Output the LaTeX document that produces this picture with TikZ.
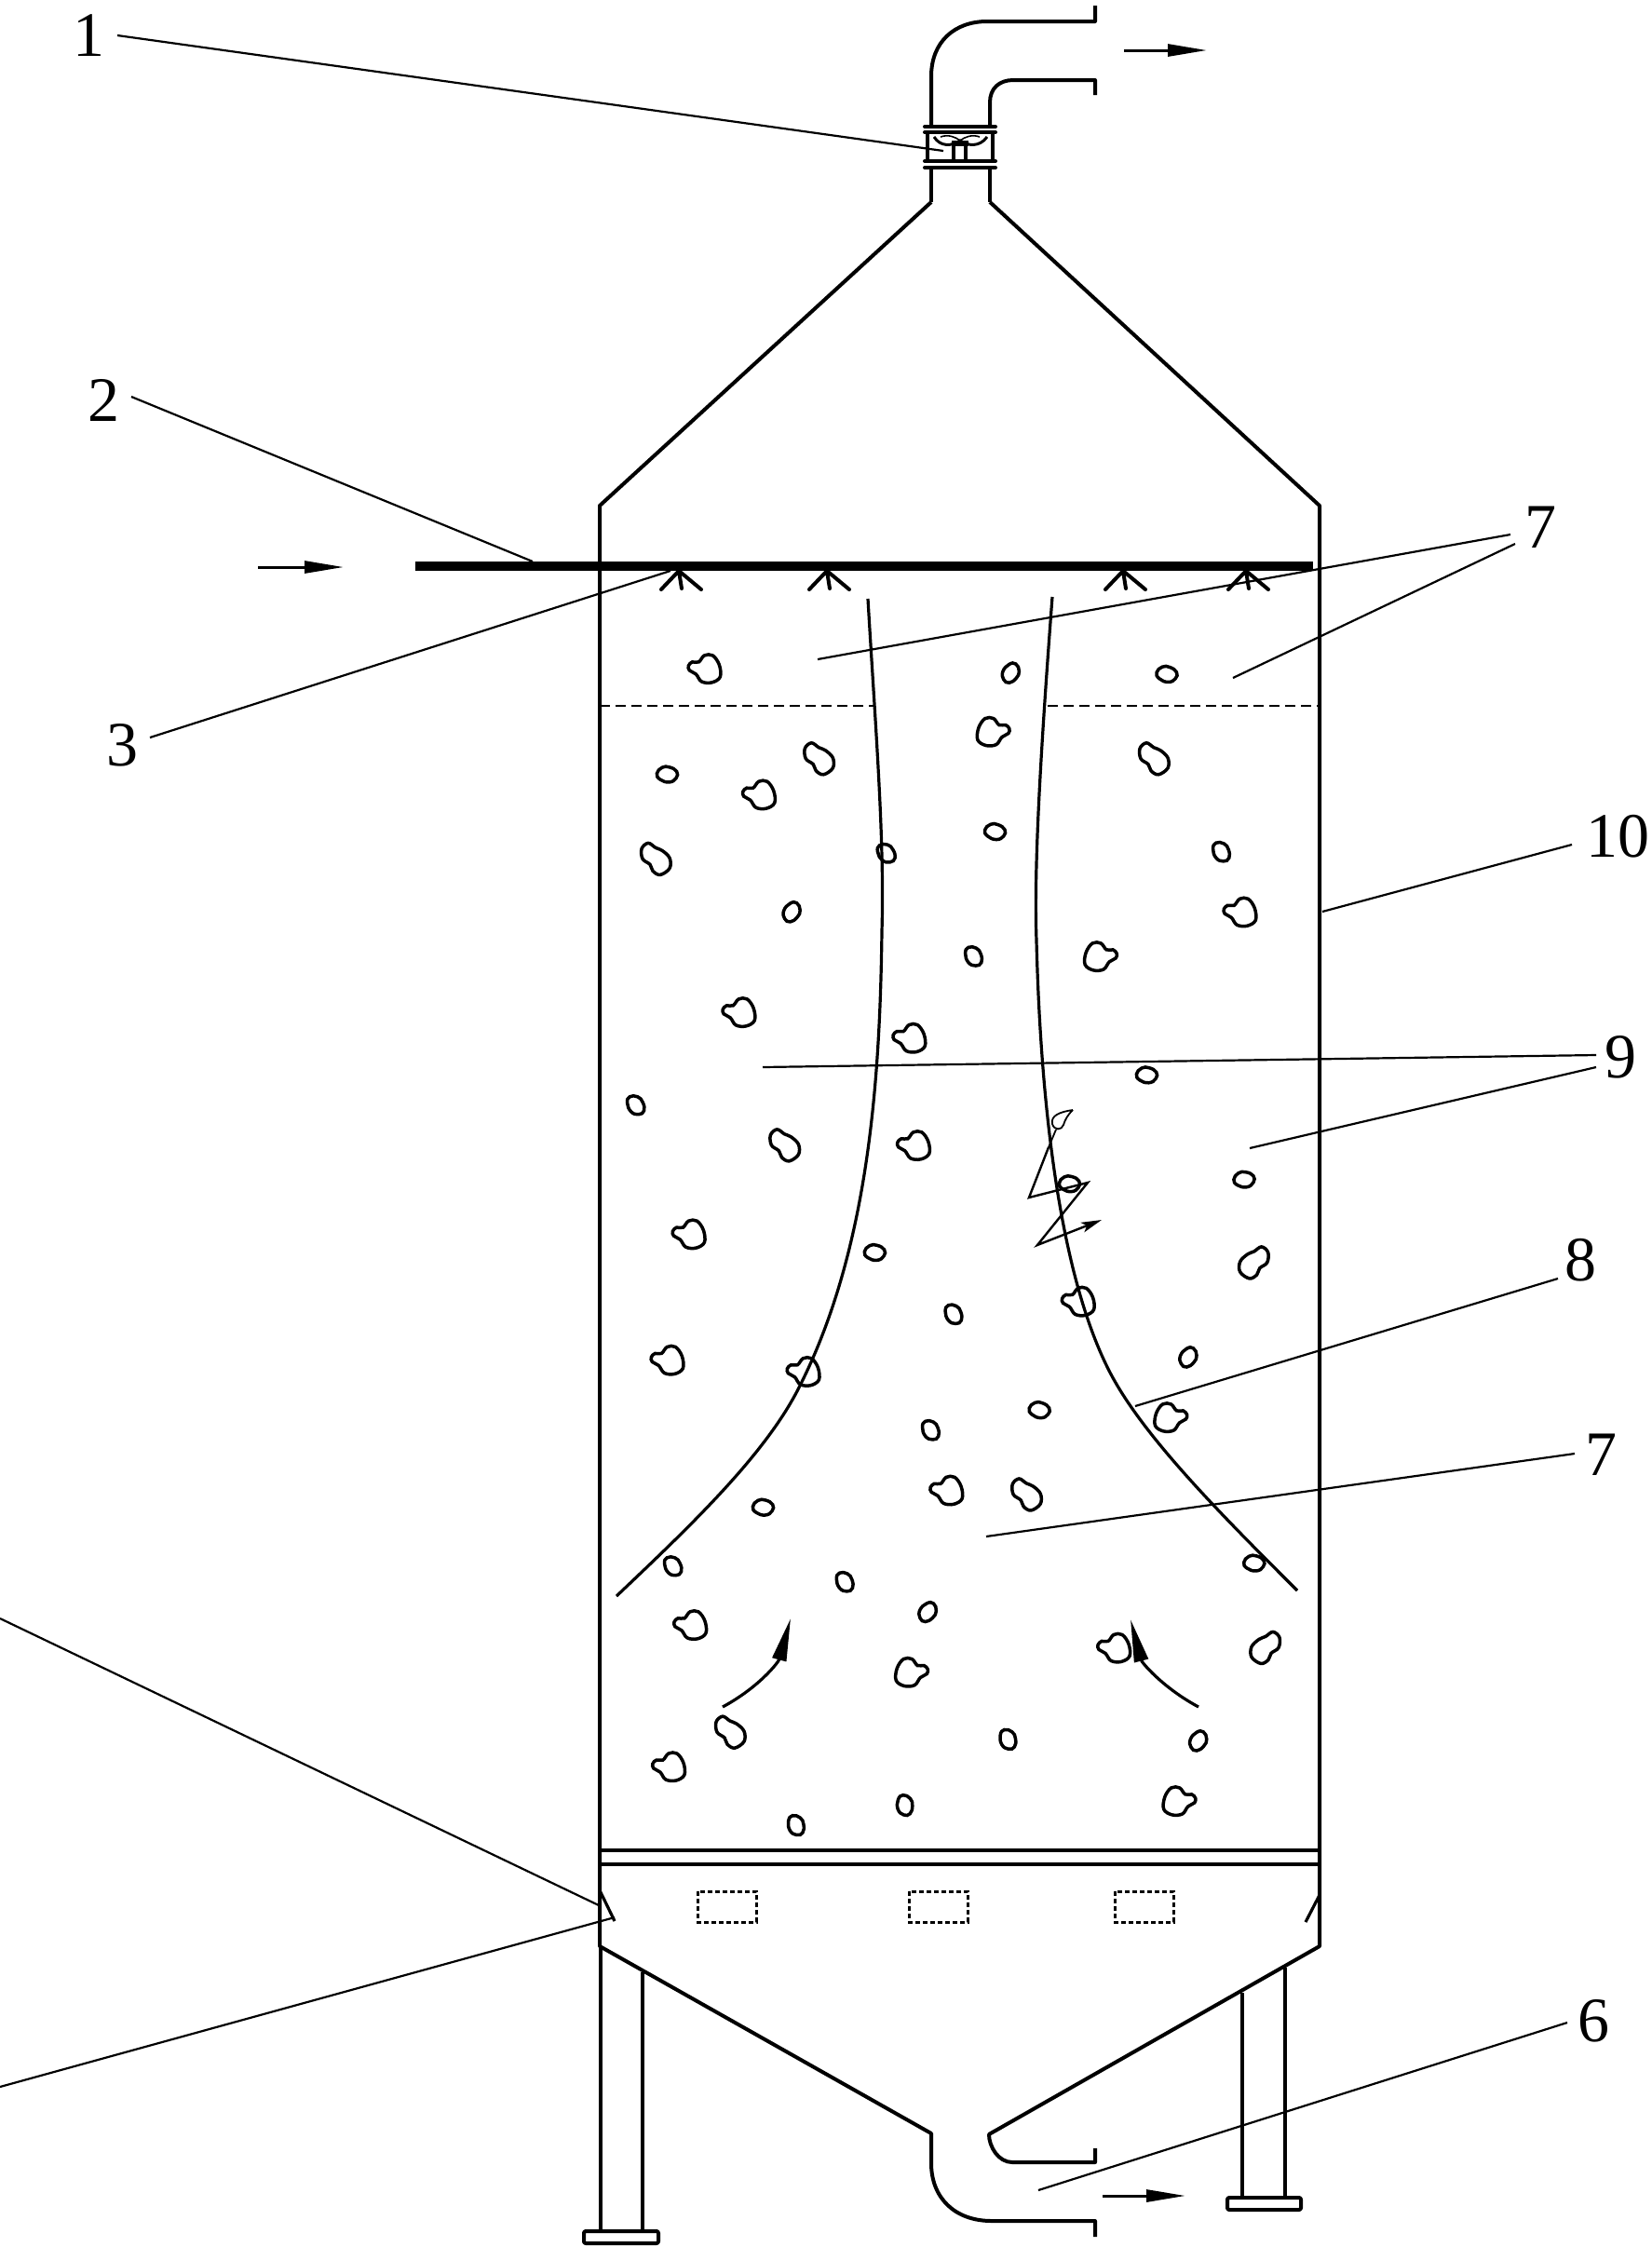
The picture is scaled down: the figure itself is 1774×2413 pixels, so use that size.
\documentclass[tikz,border=0pt]{standalone}
\usepackage{fontspec}
\setmainfont{Liberation Serif}
\usetikzlibrary{arrows.meta,calc}
\tikzset{
	wall/.style={line width=4pt,line join=round},
	thin wall/.style={line width=3.2pt},
	lead/.style={line width=2.2pt},
	flow/.style={line width=3pt,-{Stealth[length=42pt,width=13pt,inset=0pt]}},
	bigflow/.style={line width=3.2pt,-{Stealth[length=46pt,width=15pt,inset=0pt]}},
	num/.style={font=\fontsize{68}{68}\selectfont,inner sep=0pt},
	heartlump/.pic={\draw[line width=3.5pt] plot[smooth cycle,tension=0.6] coordinates{(-17,-3)(-13,-7)(-6,-7)(0,-14)(9,-14)(16,-4)(17,9)(8,15)(-3,14)(-9,6)(-16,2)};},
	peanut/.pic={\draw[line width=3.5pt] plot[smooth cycle,tension=0.6] coordinates{(-15,-11)(-8,-17)(0,-12)(7,-9)(15,-1)(15,10)(5,17)(-3,13)(-6,6)(-14,0)};},
	grain/.pic={\draw[line width=3.5pt] plot[smooth cycle,tension=0.8] coordinates{(0,-11)(7,-6)(8,2)(4,10)(-3,10)(-8,3)(-6,-7)};}
}
\begin{document}
\begin{tikzpicture}[x=1pt,y=-1pt]
\useasboundingbox (0,0) rectangle (1774,2413);
%vessel
\draw[wall](1000,217)--(1000,180)(1063,180)--(1063,217);
\draw[wall](1000,217)--(644,543)--(644,2090)--(1000,2291)--(1000,2323).. controls (1000,2360) and (1025,2385) .. (1065,2385)--(1176,2385)--(1176,2402);
\draw[wall](1063,217)--(1417,543)--(1417,2090)--(1062,2292).. controls (1062,2305) and (1072,2322) .. (1087,2322)--(1176,2322)--(1176,2307);
\draw[wall](1000,135)--(1000,82).. controls (1000,45) and (1025,23) .. (1060,23)--(1176,23)--(1176,6);
\draw[wall](1063,135)--(1063,110).. controls (1063,95) and (1073,86) .. (1088,86)--(1176,86)--(1176,102);
%flange and fan
\foreach \fy in {136,142,173,180}{\draw[wall,line cap=round](993,\fy)--(1069,\fy);}
\draw[wall](996,142)--(996,173)(1066,142)--(1066,173);
\draw[thin wall](1024,155)--(1024,173)(1037,155)--(1037,173);
\draw[line width=3pt](1003,147).. controls (1010,158) and (1022,157) .. (1031,151).. controls (1040,157) and (1052,158) .. (1060,147);
\draw[line width=1.6pt](1010,147).. controls (1018,144) and (1026,147) .. (1031,151).. controls (1036,147) and (1044,144) .. (1052,147);
\fill(1022,151)rectangle(1040,157);
%spray pipe
\draw[line width=10pt](446,608)--(1410,608);
\foreach \nx in {729,888,1206,1338}{
	\draw[wall,line cap=round](\nx-19,633)--(\nx,613)--(\nx+24,633)(\nx,613)--(\nx+3,632);
}
\draw[line width=1.8pt,dash pattern=on 11pt off 6pt](644,758)--(939,758)(1125,758)--(1417,758);
%bed curves
\draw[line width=3.2pt](932,643).. controls (940,780) and (950,900) .. (947,1000).. controls (945,1150) and (935,1340) .. (857,1492).. controls (820,1564) and (740,1640) .. (662,1714);
\draw[line width=3.2pt](1130,641).. controls (1118,800) and (1110,930) .. (1113,1010).. controls (1117,1170) and (1135,1360) .. (1190,1470).. controls (1225,1540) and (1310,1625) .. (1393,1708);
%plate and air boxes
\draw[wall](644,1987)--(1417,1987)(644,2002)--(1417,2002);
\foreach \bx in {749,976,1197}{
	\draw[line width=3pt,dash pattern=on 5pt off 3pt](\bx,2031)rectangle(\bx+63,2064);
}
\draw[thin wall](645,2032)--(660,2063)(1417,2035)--(1402,2064);
%legs
\draw[thin wall](645,2090)--(645,2396)(690,2118)--(690,2396)(1334,2140)--(1334,2360)(1380,2113)--(1380,2360);
\draw[wall,rounded corners=2pt](627,2396)rectangle(707,2409)(1318,2360)rectangle(1397,2373);
%particles
\foreach \px/\py/\ps in {492/467/1,530/555/1,866/637/1,516/707/1,635/725/1,638/800/1,481/862/1,753/909/1,466/950/1,561/958/1,661/1041/1,482/1135/1,778/1151/1,467/1234/1,694/511/-1,769/668/-1,818/990/-1,637/1168/-1,824/1258/-1}{
	\path(\px*1.5373,\py*1.5373)pic[xscale=\ps]{heartlump};
}
\foreach \px/\py/\ps in {572/530/1,806/530/1,458/600/1,548/800/1,717/1044/1,510/1210/1,876/882/-1,884/1151/-1}{
	\path(\px*1.5373,\py*1.5373)pic[xscale=\ps]{peanut};
}
\foreach \px/\py/\prot in {706/470/-30,815/471/80,466/541/85,695/581/80,619/596/40,853/595/30,553/637/-30,680/668/30,801/751/85,444/772/35,869/824/90,747/827/85,611/875/85,666/918/30,830/948/-30,726/985/80,650/999/30,533/1053/85,470/1094/35,876/1092/85,590/1105/30,648/1126/-35,704/1215/20,837/1216/-30,632/1261/10,556/1275/20}{
	\path(\px*1.5373,\py*1.5373)pic[rotate=\prot]{grain};
}
%spark
\draw[line width=1.8pt](1152,1192).. controls (1138,1194) and (1128,1198) .. (1130,1207).. controls (1132,1214) and (1140,1214) .. (1142,1208).. controls (1144,1202) and (1146,1198) .. (1152,1192);
\draw[line width=1.8pt](1134,1213)--(1126,1232);
\draw[line width=2.4pt,-{Stealth[length=22pt,width=11pt,inset=5pt]}](1126,1232)--(1105,1286)--(1168,1270)--(1114,1337)--(1183,1310);
%flow arrows
\draw[flow](277,609)--(369,609);
\draw[flow](1207,54)--(1296,54);
\draw[flow](1184,2358)--(1273,2358);
\draw[bigflow](776,1833).. controls (815,1812) and (836,1785) .. (849,1738);
\draw[bigflow](1287,1833).. controls (1248,1812) and (1226,1785) .. (1214,1739);
%labels
\node[num](l1)at(95,38){1};
\node[num](l2)at(111,430){2};
\node[num](l3)at(131,800){3};
\node[num](l6)at(1711,2170){6};
\node[num](l7a)at(1654,566){7};
\node[num](l7b)at(1719,1562){7};
\node[num](l8)at(1697,1353){8};
\node[num](l9)at(1740,1135){9};
\node[num](l10)at(1737,898){10};
\foreach \sx/\sy/\tx/\ty in {126/38/1013/162,141/426/572/603,161/792/720/613,1622/574/878/708,1627/584/1324/728,1688/907/1420/979,1714/1133/819/1146,1714/1146/1342/1233,1673/1373/1219/1510,1691/1561/1059/1650,1683/2172/1115/2352,0/1738/645/2047,0/2241/660/2059}{
	\coordinate(s)at(\sx,\sy);
	\coordinate(t)at(\tx,\ty);
	\draw[lead](s)--(t);
}
\end{tikzpicture}
\end{document}
